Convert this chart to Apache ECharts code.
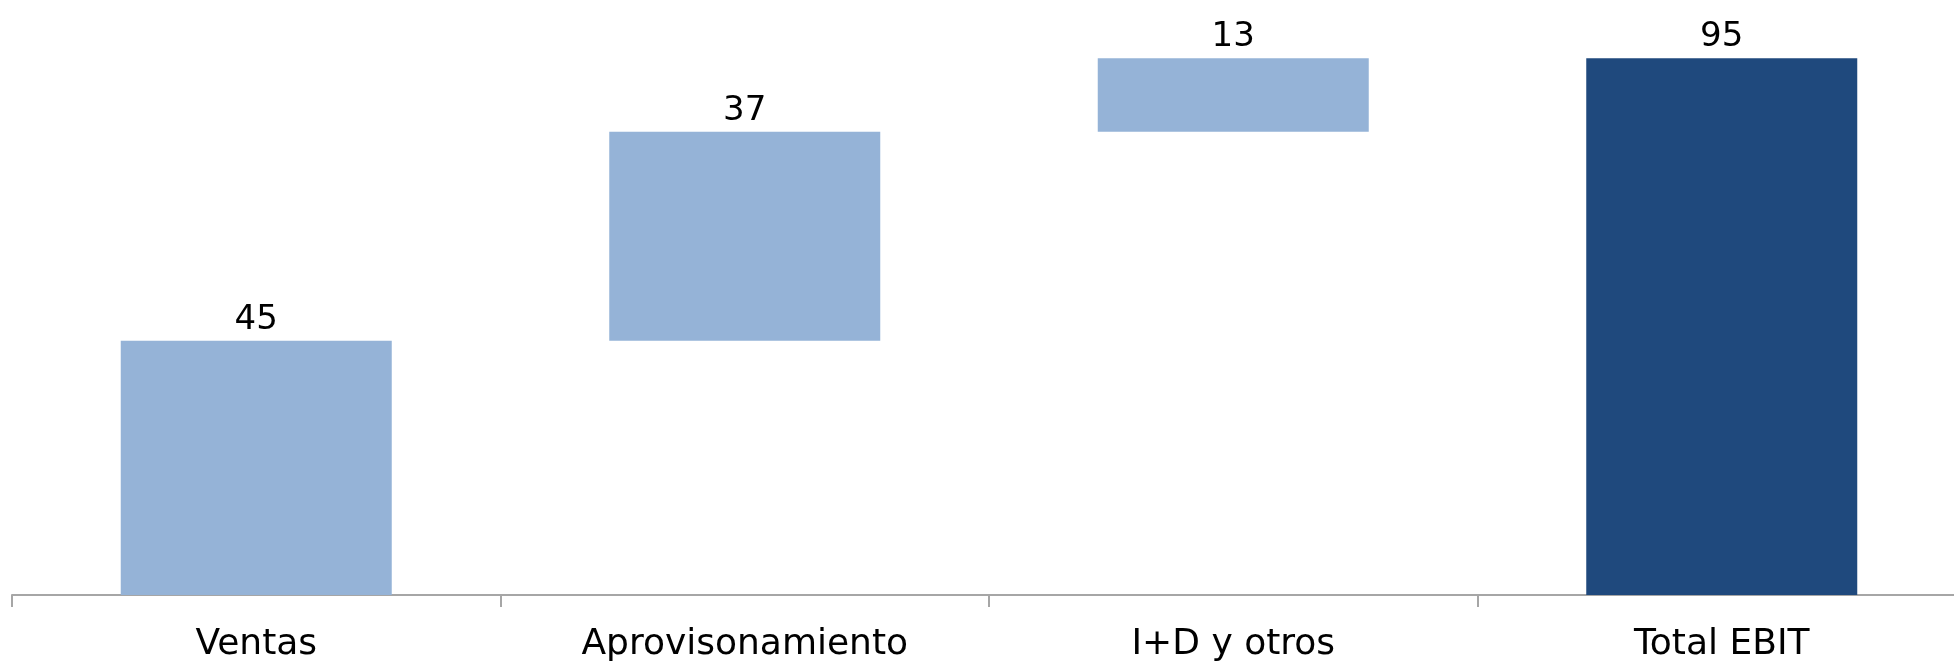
<!DOCTYPE html>
<html>
<head>
<meta charset="utf-8">
<script src="https://cdn.jsdelivr.net/npm/echarts@6/dist/echarts.min.js"></script>
<style>
  html, body { margin: 0; padding: 0; background: #fff; }
  #container { width: 1954px; height: 663px; }
</style>
</head>
<body>
<div id="container"></div>
<script>
var categories = ['Ventas', 'Aprovisonamiento', 'I+D y otros', 'Total EBIT'];
var values = [45, 37, 13, 95];
var isTotal = [false, false, false, true];

var lightBlue = '#95B3D7';
var darkBlue = '#1F497D';

// base (invisible) part of the waterfall
var base = [];
var running = 0;
for (var i = 0; i < values.length; i++) {
    if (isTotal[i]) {
        base.push(0);
    } else {
        base.push(running);
        running += values[i];
    }
}

var chart = echarts.init(document.getElementById('container'));

chart.setOption({
    animation: false,
    grid: {
        left: 12,
        right: -12,
        top: 30,
        bottom: 68,
        outerBoundsMode: 'none'
    },
    xAxis: {
        type: 'category',
        data: categories,
        axisLine: { lineStyle: { color: '#A6A6A6', width: 2 } },
        axisTick: { show: true, length: 12, lineStyle: { color: '#A6A6A6', width: 2 } },
        axisLabel: {
            color: '#000',
            fontFamily: '"DejaVu Sans", Verdana, sans-serif',
            fontSize: 36,
            margin: 32
        }
    },
    yAxis: {
        type: 'value',
        min: 0,
        max: 100,
        show: false,
        splitLine: { show: false }
    },
    series: [
        {
            type: 'bar',
            stack: 'wf',
            data: base,
            itemStyle: { color: 'transparent' },
            barWidth: 271,
            silent: true
        },
        {
            type: 'bar',
            stack: 'wf',
            barWidth: 271,
            data: values.map(function (v, i) {
                return {
                    value: v,
                    itemStyle: { color: isTotal[i] ? darkBlue : lightBlue }
                };
            }),
            label: {
                show: true,
                position: 'top',
                distance: 4,
                color: '#000',
                fontFamily: '"DejaVu Sans", Verdana, sans-serif',
                fontSize: 34
            }
        }
    ]
});
</script>
</body>
</html>
